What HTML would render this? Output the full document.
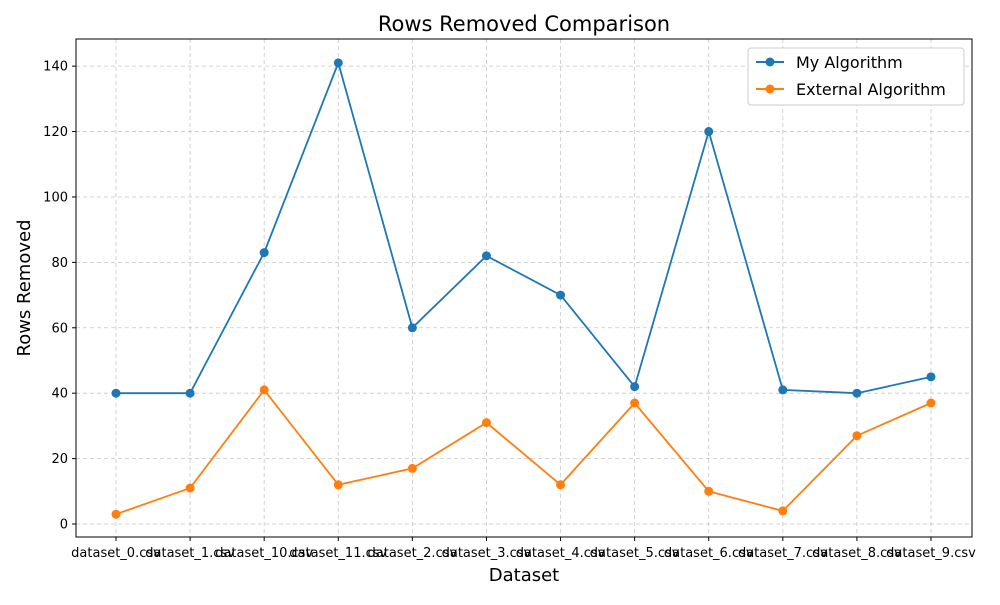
<!DOCTYPE html>
<html><head><meta charset="utf-8"><style>
body{margin:0;background:#fff;font-family:"Liberation Sans","DejaVu Sans",sans-serif;}
svg text{font-family:"DejaVu Sans","Liberation Sans",sans-serif;}
</style></head><body>
<svg id="chart" width="1000" height="600">
<rect x="0" y="0" width="1000" height="600" fill="#fff"/>
<g id="grid"></g><g id="axes"></g><g id="series"></g>
<text x="524" y="31" text-anchor="middle" font-size="21">Rows Removed Comparison</text>
<text x="524" y="581" text-anchor="middle" font-size="18">Dataset</text>
<text x="30" y="288" text-anchor="middle" font-size="18" transform="rotate(-90 30 288)">Rows Removed</text>
<g>
<rect x="748" y="48" width="216" height="57" fill="#fff" stroke="#ccc" rx="3"/>
<g>
<line x1="756" y1="62" x2="784" y2="62" stroke="#1f77b4" stroke-width="2"/><circle cx="770" cy="62" r="4.5" fill="#1f77b4"/>
<text x="796" y="68" font-size="16">My Algorithm</text></g>
<g>
<line x1="756" y1="89" x2="784" y2="89" stroke="#ff7f0e" stroke-width="2"/><circle cx="770" cy="89" r="4.5" fill="#ff7f0e"/>
<text x="796" y="95" font-size="16">External Algorithm</text></g>
</g>
</svg>
<script>
const categories=["dataset_0.csv","dataset_1.csv","dataset_10.csv","dataset_11.csv","dataset_2.csv","dataset_3.csv","dataset_4.csv","dataset_5.csv","dataset_6.csv","dataset_7.csv","dataset_8.csv","dataset_9.csv"];
const myAlgorithm=[40,40,83,141,60,82,70,42,120,41,40,45];
const externalAlgorithm=[3,11,41,12,17,31,12,37,10,4,27,37];
const yTicks=[0,20,40,60,80,100,120,140];
const NS="http://www.w3.org/2000/svg";
const L=76,R=972,T=39,B=537;
const yMin=-3.97,yMax=148.3;
function x(i){return 116+i*(931-116)/(categories.length-1);}
function y(v){return B-(v-yMin)/(yMax-yMin)*(B-T);}
function mk(tag,a,p){const e=document.createElementNS(NS,tag);for(const k in a)e.setAttribute(k,a[k]);p.appendChild(e);return e;}
const grid=document.getElementById('grid'),axes=document.getElementById('axes'),ser=document.getElementById('series');
categories.forEach((c,i)=>{
 const g=mk('line',{x1:x(i),x2:x(i),y1:T,y2:B,stroke:'#b0b0b0','stroke-dasharray':'4,3','stroke-width':0.8,opacity:0.7},grid);
 
 
 mk('line',{x1:x(i),x2:x(i),y1:B,y2:B+4,stroke:'#000'},axes);
 const t=mk('text',{x:x(i),y:B+20,'text-anchor':'middle','font-size':13},axes);t.textContent=c;
 
 
});
yTicks.forEach(v=>{
 const g=mk('line',{x1:L,x2:R,y1:y(v),y2:y(v),stroke:'#b0b0b0','stroke-dasharray':'4,3','stroke-width':0.8,opacity:0.7},grid);
 
 
 mk('line',{x1:L-4,x2:L,y1:y(v),y2:y(v),stroke:'#000'},axes);
 const t=mk('text',{x:L-8,y:y(v)+4.5,'text-anchor':'end','font-size':13},axes);t.textContent=v;
 
 
});
const fr=mk('rect',{x:L,y:T,width:R-L,height:B-T,fill:'none',stroke:'#000','stroke-width':1},axes);


function series(vals,color,name){
 const p=mk('polyline',{points:vals.map((v,i)=>x(i)+','+y(v)).join(' '),fill:'none',stroke:color,'stroke-width':1.8},ser);
 
 
 vals.forEach((v,i)=>{const c=mk('circle',{cx:x(i),cy:y(v),r:4.5,fill:color},ser);
 
 });
}
series(myAlgorithm,'#1f77b4','my-algorithm');
series(externalAlgorithm,'#ff7f0e','external-algorithm');
</script>
</body></html>
